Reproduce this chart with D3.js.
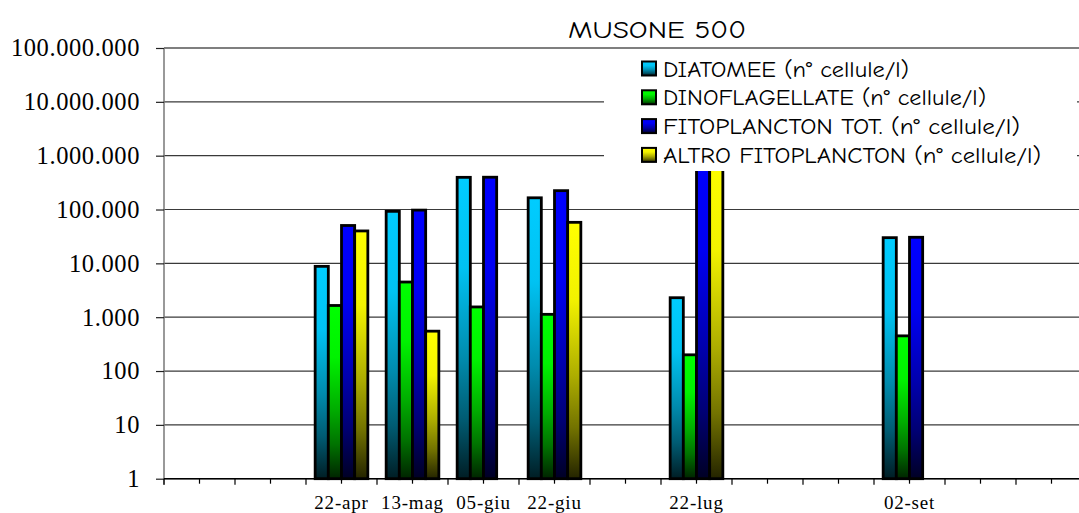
<!DOCTYPE html>
<html>
<head>
<meta charset="utf-8">
<script src="https://cdn.jsdelivr.net/npm/d3@7"></script>
<style>
  html, body { margin: 0; padding: 0; background: #fff; }
  svg { display: block; }
</style>
</head>
<body>
<svg id="chart" width="1079" height="513"></svg>
<script>
// ---------- DATA ----------
const title = "MUSONE 500";
const categories = ["", "", "22-apr", "13-mag", "05-giu", "22-giu", "", "22-lug", "", "", "02-set", "", ""];
const seriesNames = [
  "DIATOMEE (n° cellule/l)",
  "DINOFLAGELLATE (n° cellule/l)",
  "FITOPLANCTON TOT. (n° cellule/l)",
  "ALTRO FITOPLANCTON (n° cellule/l)"
];
const diatomee = [null, null, 8800, 92500, 396000, 165000, null, 2300, null, null, 30000, null, null];
const dinoflagellate = [null, null, 1650, 4500, 1550, 1130, null, 200, null, null, 450, null, null];
const fitoplanctonTot = [null, null, 50500, 97500, 398000, 224000, null, 1200000, null, null, 30500, null, null];
const altroFitoplancton = [null, null, 40000, 550, null, 57800, null, 1197500, null, null, null, null, null];
const yTickValues = [1, 10, 100, 1000, 10000, 100000, 1000000, 10000000, 100000000];
const seriesColors = ["#00CCFF", "#00FF00", "#0000FF", "#FFFF00"];

const seriesValues = [diatomee, dinoflagellate, fitoplanctonTot, altroFitoplancton];

// ---------- LAYOUT ----------
const svg = d3.select("#chart");
const plotLeft = 164, plotRight = 1087, plotTop = 48, plotBottom = 478.7;

const x = d3.scaleBand()
  .domain(d3.range(categories.length))
  .range([plotLeft, plotRight])
  .paddingInner(0.258)
  .paddingOuter(0.129);

const xs = d3.scaleBand()
  .domain(d3.range(seriesNames.length))
  .range([0, x.bandwidth()]);

const y = d3.scaleLog().domain([1, 1e8]).range([plotBottom, plotTop]);

const fmt = d => d3.format(",")(d).replace(/,/g, ".");

// gradients
const defs = svg.append("defs");
seriesColors.forEach((c, i) => {
  const g = defs.append("linearGradient")
    .attr("id", "grad" + i)
    .attr("x1", 0).attr("y1", 0).attr("x2", 0).attr("y2", 1);
  const stops = [[0, 1.0], [0.3, 0.95], [0.6, 0.68], [0.8, 0.45], [1, 0.14]];
  stops.forEach(([o, f]) => {
    g.append("stop").attr("offset", o)
      .attr("stop-color", d3.interpolateRgb("#000", c)(f));
  });
});

// gridlines
svg.append("g")
  .selectAll("line")
  .data(yTickValues)
  .join("line")
  .attr("x1", plotLeft).attr("x2", 1079)
  .attr("y1", d => y(d)).attr("y2", d => y(d))
  .attr("stroke", (d, i) => i === yTickValues.length - 1 ? "#000" : "#3a3a3a")
  .attr("stroke-width", 1.2);

// y axis
const yAxis = svg.append("g")
  .attr("transform", `translate(${plotLeft},0)`)
  .call(d3.axisLeft(y).tickValues(yTickValues).tickSize(8).tickPadding(16).tickFormat(fmt));
yAxis.select(".domain").attr("stroke", "#777").attr("stroke-width", 1.5)
  .attr("d", `M0,${plotTop}V${plotBottom + 6}`);
yAxis.selectAll(".tick line").attr("stroke", "#222").attr("stroke-width", 1.2);
yAxis.selectAll(".tick text")
  .attr("font-family", "'Liberation Serif', 'Times New Roman', serif")
  .attr("font-size", 24.5)
  .attr("letter-spacing", "0.6px")
  .attr("fill", "#000");

// bars
const barG = svg.append("g");
seriesValues.forEach((vals, s) => {
  barG.append("g")
    .selectAll("rect")
    .data(vals.map((v, i) => ({ i, v })).filter(d => d.v != null))
    .join("rect")
    .attr("x", d => x(d.i) + xs(s))
    .attr("y", d => y(d.v))
    .attr("width", xs.bandwidth())
    .attr("height", d => y(1) - y(d.v))
    .attr("fill", `url(#grad${s})`)
    .attr("stroke", "#000")
    .attr("stroke-width", 2.8);
});

// x axis
const xAxis = svg.append("g")
  .attr("transform", `translate(0,${plotBottom})`)
  .call(d3.axisBottom(x).tickSize(5).tickPadding(12).tickFormat(i => categories[i]));
xAxis.select(".domain").attr("stroke", "#000").attr("stroke-width", 1.5)
  .attr("d", `M${plotLeft},0H1079`);
xAxis.selectAll(".tick line").attr("stroke", "#000").attr("stroke-width", 1.2);
xAxis.selectAll(".tick text")
  .attr("font-family", "'Liberation Serif', 'Times New Roman', serif")
  .attr("font-size", 19)
  .attr("letter-spacing", "0.8px")
  .attr("fill", "#000");
// major ticks at category boundaries
xAxis.append("g")
  .selectAll("line")
  .data(d3.range(categories.length + 1))
  .join("line")
  .attr("x1", i => x.range()[0] + i * x.step())
  .attr("x2", i => x.range()[0] + i * x.step())
  .attr("y1", 0).attr("y2", 6)
  .attr("stroke", "#000").attr("stroke-width", 1.2);

// title
svg.append("text")
  .attr("x", 657).attr("y", 38)
  .attr("text-anchor", "middle")
  .attr("font-family", "'Comic Sans MS', 'Comic Neue', 'Open Sans', sans-serif")
  .attr("font-size", 23.5)
  .attr("textLength", 178)
  .attr("lengthAdjust", "spacingAndGlyphs")
  .text(title);

// legend
const legend = svg.append("g");
legend.append("rect")
  .attr("x", 604).attr("y", 52).attr("width", 473).attr("height", 119)
  .attr("fill", "#fff");
const legendWidths = [246, 323, 357, 378];
seriesNames.forEach((name, i) => {
  const cy = 68.5 + i * 28.8;
  legend.append("rect")
    .attr("x", 642).attr("y", cy - 7).attr("width", 14).attr("height", 14)
    .attr("fill", `url(#grad${i})`)
    .attr("stroke", "#000").attr("stroke-width", 2);
  legend.append("text")
    .attr("x", 663).attr("y", cy + 8)
    .attr("font-family", "'Comic Sans MS', 'Comic Neue', 'Open Sans', sans-serif")
    .attr("font-size", 22.5)
    .attr("textLength", legendWidths[i])
    .attr("lengthAdjust", "spacingAndGlyphs")
    .text(name);
});
</script>
</body>
</html>
